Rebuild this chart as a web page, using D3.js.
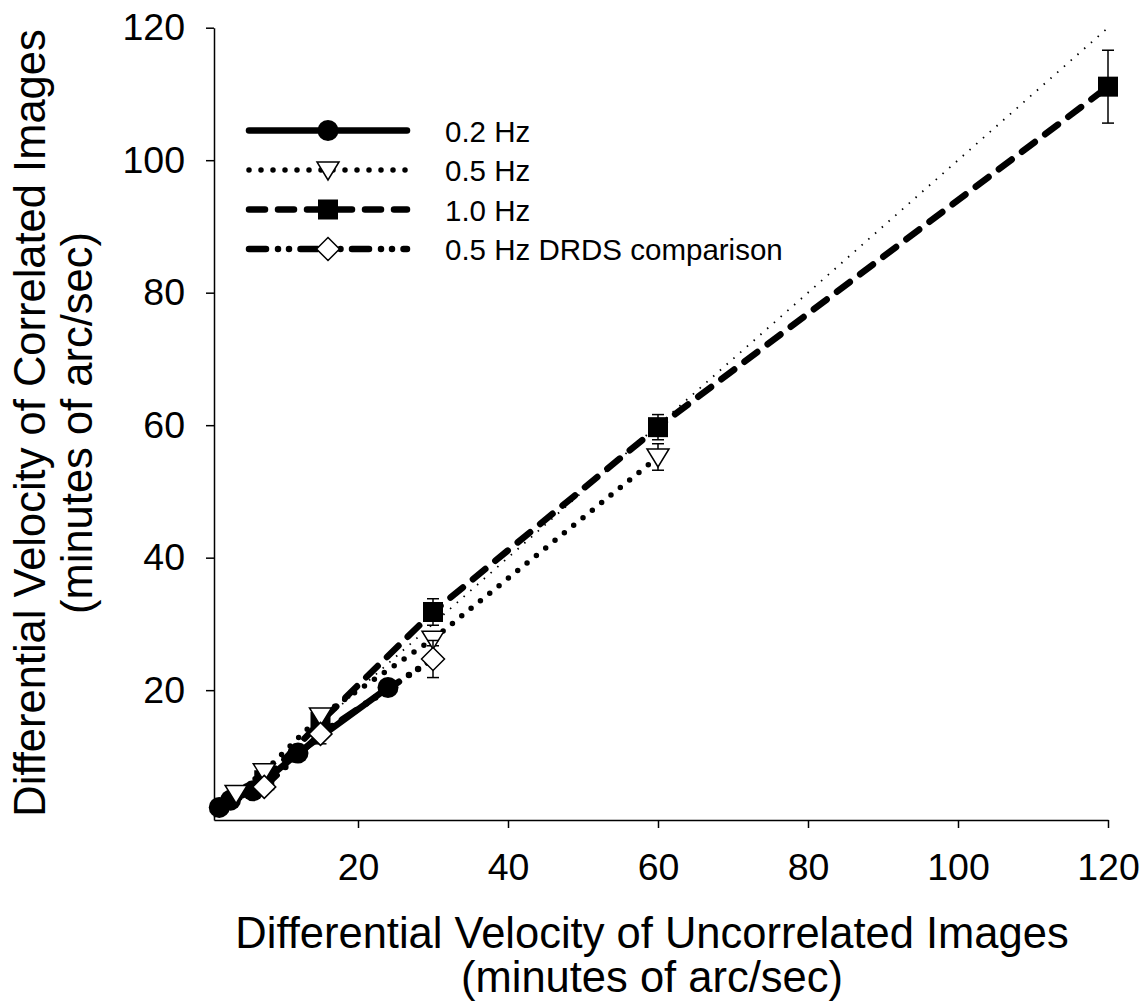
<!DOCTYPE html>
<html>
<head>
<meta charset="utf-8">
<script src="https://cdn.jsdelivr.net/npm/d3@7"></script>
<style>
  body { margin: 0; background: #fff; }
  text { font-family: "Liberation Sans", Arial, sans-serif; fill: #000; }
</style>
</head>
<body>
<div id="chart"></div>
<script>
// values
var seriesNames = ["0.2 Hz", "0.5 Hz", "1.0 Hz", "0.5 Hz DRDS comparison"];

var x02 = [1.5, 3, 6, 12, 24];
var y02 = [2.3, 3.4, 4.8, 10.5, 20.4];
var e02 = [0.4, 0.4, 0.5, 0.6, 0.8];

var x05 = [3.75, 7.5, 15, 30, 60];
var y05 = [4.4, 7.7, 16.1, 27.7, 55.2];
var e05 = [0.9, 0.9, 1.0, 1.0, 2.0];

var x10 = [7.5, 15, 30, 60, 120];
var y10 = [6.4, 15.2, 31.8, 59.7, 111.1];
var e10 = [0.6, 1.0, 2.0, 1.9, 5.5];

var xDrds = [7.5, 15, 30];
var yDrds = [5.4, 13.4, 24.7];
var eDrds = [0.8, 1.5, 2.8];

var xTicks = [20, 40, 60, 80, 100, 120];
var yTicks = [20, 40, 60, 80, 100, 120];

var xTitle = "Differential Velocity of Uncorrelated Images";
var yTitle = "Differential Velocity of Correlated Images";
var unitTitle = "(minutes of arc/sec)";

var W = 1145, H = 1007;

var svg = d3.select("#chart").append("svg")
  .attr("width", W).attr("height", H);
svg.append("rect").attr("width", W).attr("height", H).attr("fill", "#fff");

var x = d3.scaleLinear().domain([0.8, 120]).range([214, 1108]);
var y = d3.scaleLinear().domain([0.4, 120]).range([820, 27.7]);

// styles per series (draw order: 0.2, 1.0, 0.5, DRDS)
var styles = {
  "0.2 Hz": {dash: null, width: 6.5, marker: "circle"},
  "0.5 Hz": {dash: "0,12", width: 5.5, marker: "tri"},
  "1.0 Hz": {dash: "16,13", width: 6.5, marker: "square"},
  "0.5 Hz DRDS comparison": {dash: "17,12,0,11,0,11.5", width: 6.5, marker: "diamond"}
};

function makeSeries(name, xs, ys, es){
  var data = [];
  for (var i = 0 ; i < xs.length ; i++){
    data.push({x: xs[i], y: ys[i], e: es[i]});
  }
  return {name: name, data: data};
}

var series = [
  makeSeries(seriesNames[0], x02, y02, e02),
  makeSeries(seriesNames[2], x10, y10, e10),
  makeSeries(seriesNames[1], x05, y05, e05),
  makeSeries(seriesNames[3], xDrds, yDrds, eDrds)
];

function drawMarker(g, type, cx, cy){
  if (type == "circle"){
    g.append("circle").attr("cx", cx).attr("cy", cy).attr("r", 10.5)
      .attr("fill", "#000");
  }
  else if (type == "square"){
    g.append("rect").attr("x", cx - 10).attr("y", cy - 10)
      .attr("width", 20).attr("height", 20).attr("fill", "#000");
  }
  else if (type == "tri"){
    g.append("path")
      .attr("d", "M" + (cx - 11) + "," + (cy - 8) + "L" + (cx + 11) + "," + (cy - 8) + "L" + cx + "," + (cy + 10) + "Z")
      .attr("fill", "#fff").attr("stroke", "#000").attr("stroke-width", 1.5);
  }
  else {
    g.append("path")
      .attr("d", "M" + cx + "," + (cy - 11.5) + "L" + (cx + 11.5) + "," + cy + "L" + cx + "," + (cy + 11.5) + "L" + (cx - 11.5) + "," + cy + "Z")
      .attr("fill", "#fff").attr("stroke", "#000").attr("stroke-width", 1.5);
  }
}

// axes
var xAxis = svg.append("g")
  .attr("transform", "translate(0,820)")
  .call(d3.axisBottom(x).tickValues(xTicks).tickSize(8).tickSizeOuter(0).tickPadding(25));
var yAxis = svg.append("g")
  .attr("transform", "translate(214,0)")
  .call(d3.axisLeft(y).tickValues(yTicks).tickSize(8).tickSizeOuter(0).tickPadding(21));
[xAxis, yAxis].forEach(function(a){
  a.selectAll("path, line").attr("stroke", "#000").attr("stroke-width", 1.5);
  a.selectAll("text").attr("font-size", 37.5).attr("font-family", "Liberation Sans, Arial, sans-serif").attr("fill", "#000");
});

// identity line
svg.append("line")
  .attr("x1", x(0.8)).attr("y1", y(0.8))
  .attr("x2", x(120)).attr("y2", y(120))
  .attr("stroke", "#000").attr("stroke-width", 1.8)
  .attr("stroke-dasharray", "1.5,7.5");

var line = d3.line()
  .x(function(d) { return x(d.x); })
  .y(function(d) { return y(d.y); });

series.forEach(function(s){
  var st = styles[s.name];
  var g = svg.append("g");
  var p = g.append("path")
    .datum(s.data)
    .attr("fill", "none")
    .attr("stroke", "#000")
    .attr("stroke-width", st.width)
    .attr("stroke-linecap", "round")
    .attr("stroke-linejoin", "round")
    .attr("d", line);
  if (st.dash) p.attr("stroke-dasharray", st.dash);

  // error bars
  s.data.forEach(function(d){
    var cx = x(d.x), top = y(d.y + d.e), bot = y(d.y - d.e);
    g.append("line").attr("x1", cx).attr("x2", cx).attr("y1", top).attr("y2", bot)
      .attr("stroke", "#000").attr("stroke-width", 1.5);
    g.append("line").attr("x1", cx - 6).attr("x2", cx + 6).attr("y1", top).attr("y2", top)
      .attr("stroke", "#000").attr("stroke-width", 1.5);
    g.append("line").attr("x1", cx - 6).attr("x2", cx + 6).attr("y1", bot).attr("y2", bot)
      .attr("stroke", "#000").attr("stroke-width", 1.5);
  });
  s.data.forEach(function(d){
    drawMarker(g, st.marker, x(d.x), y(d.y));
  });
});

// legend
var legend = svg.append("g");
seriesNames.forEach(function(name, i){
  var st = styles[name];
  var ly = 130.5 + i * 39.5;
  var l = legend.append("line")
    .attr("x1", 249).attr("x2", 407).attr("y1", ly).attr("y2", ly)
    .attr("stroke", "#000").attr("stroke-width", st.width)
    .attr("stroke-linecap", "round");
  if (st.dash) l.attr("stroke-dasharray", st.dash);
  drawMarker(legend, st.marker, 328, ly);
  legend.append("text")
    .attr("x", 445).attr("y", ly + 11)
    .attr("font-size", 29.5)
    .text(name);
});

// axis titles
svg.append("text")
  .attr("x", 652).attr("y", 948)
  .attr("text-anchor", "middle").attr("font-size", 43.5)
  .text(xTitle);
svg.append("text")
  .attr("x", 652).attr("y", 992)
  .attr("text-anchor", "middle").attr("font-size", 43.5)
  .text(unitTitle);

svg.append("text")
  .attr("transform", "translate(45,423) rotate(-90)")
  .attr("text-anchor", "middle").attr("font-size", 43.5)
  .text(yTitle);
svg.append("text")
  .attr("transform", "translate(92,423) rotate(-90)")
  .attr("text-anchor", "middle").attr("font-size", 43.5)
  .text(unitTitle);
</script>
</body>
</html>
